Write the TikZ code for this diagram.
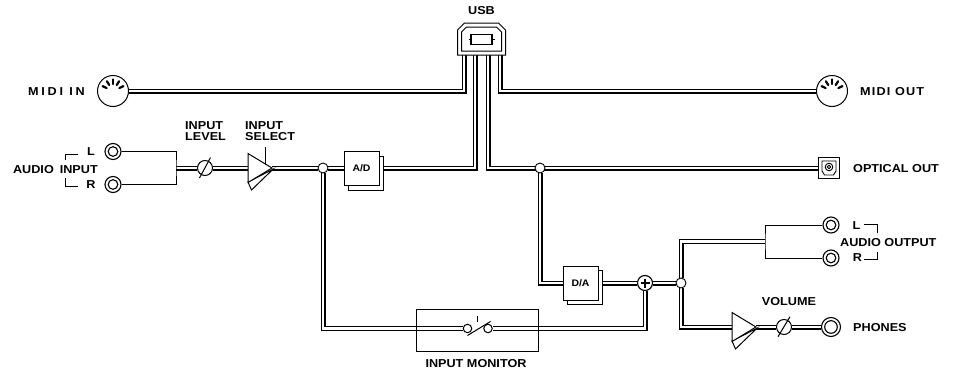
\documentclass[tikz,border=0pt]{standalone}
\usepackage{fontspec}
\newfontfamily\lab{Liberation Sans}[FakeStretch=1.1]
\usetikzlibrary{calc}
\pgfdeclarelayer{wireb}
\pgfdeclarelayer{wirew}
\pgfsetlayers{wireb,wirew,main}
\newcommand\wire[1]{%
  \begin{pgfonlayer}{wireb}\draw[line width=5pt] #1;\end{pgfonlayer}%
  \begin{pgfonlayer}{wirew}\draw[white,line width=2.6pt] #1;\end{pgfonlayer}}
\tikzset{
  lbl/.style={inner sep=0},
  midi/.style={circle, draw, line width=1pt, fill=white, minimum size=31, inner sep=0},
  jack/.style={circle, draw, line width=1.1pt, fill=white, minimum size=16, inner sep=0,
    path picture={\draw[line width=1.1pt] (path picture bounding box.center) circle[radius=4.8];}},
  phonejack/.style={circle, draw, line width=1.1pt, fill=white, minimum size=19, inner sep=0,
    path picture={\draw[line width=1.1pt] (path picture bounding box.center) circle[radius=6.3];}},
  knob/.style={circle, draw, line width=1pt, fill=white, minimum size=15, inner sep=0},
  junc/.style={circle, draw, line width=0.9pt, fill=white, minimum size=10, inner sep=0},
  contact/.style={circle, draw, line width=1pt, fill=white, minimum size=8.5, inner sep=0},
  conv/.style={draw, line width=0.9pt, fill=white, minimum width=35, minimum height=34, inner sep=0,
    font=\lab\bfseries\fontsize{9.5}{9.5}\selectfont},
  plusn/.style={circle, draw, line width=1.1pt, fill=white, minimum size=15, inner sep=0,
    path picture={\draw[line width=1.8pt] ([xshift=-4.5]path picture bounding box.center) -- ([xshift=4.5]path picture bounding box.center);
                  \draw[line width=1.8pt] ([yshift=-4.5]path picture bounding box.center) -- ([yshift=4.5]path picture bounding box.center);}},
  thinline/.style={line width=0.9pt},
  amp/.pic={
    \draw[line width=1pt, fill=white] (0,14) -- (3.5,22) -- (25,1.2) -- cycle;
    \draw[line width=1pt, fill=white, line join=miter] (0,-14.5) -- (24,0) -- (0,14.5) -- cycle;
    \coordinate (-in) at (0,0);
    \coordinate (-out) at (24,0);
  }
}
\begin{document}
\begin{tikzpicture}[x=1pt,y=-1pt, font=\lab\bfseries\fontsize{11.5}{11}\selectfont]
\useasboundingbox (0,0) rectangle (954,375);

% ---------- USB ----------
\node[lbl] (tusb) at (481.5,11) {USB};
\node[minimum width=48, minimum height=32, inner sep=0] (usb) at (481.5,39) {};
\begin{scope}[shift={(usb.center)}]
  \draw[line width=1pt, fill=white] (-24,16) -- (-24,-9) -- (-17,-16) -- (17,-16) -- (24,-9) -- (24,16) -- cycle;
  \draw[line width=1pt] (-20,12) -- (-20,-7) -- (-15,-12) -- (15,-12) -- (20,-7) -- (20,12) -- cycle;
  \draw[line width=1.6pt] (-10.5,-4.5) rectangle (10.5,5.5);
  \draw[line width=1pt] (-13,0.5) -- (-10.5,0.5) (10.5,0.5) -- (13,0.5);
\end{scope}

% ---------- MIDI ----------
\node[midi] (midiin) at (113,91) {};
\node[midi] (midiout) at (832,91) {};
\foreach \m in {midiin,midiout}{
  \foreach \a in {-155,-122,-90,-58,-25}
    \draw[line width=2.2pt, line cap=round] ([shift={(\a:7)}]\m.center) -- ([shift={(\a:11.5)}]\m.center);
}
\node[lbl, anchor=east] (tmidiin) at (85,91.5) {\addfontfeature{LetterSpace=24}MIDI IN};
\node[lbl, anchor=west] (tmidiout) at (860,91.5) {\addfontfeature{LetterSpace=10}MIDI OUT};

% ---------- audio input ----------
\node[jack] (jl) at (113,151.5) {};
\node[jack] (jr) at (113,184.5) {};
\node[lbl] (tl) at (91,151.5) {L};
\node[lbl] (tr) at (91,185) {R};
\node[lbl, anchor=east] (tain) at (98,169.5) {AUDIO\hspace{6pt}INPUT};
\draw[thinline] (78,154) -- (65,154) -- (65,160);
\draw[thinline] (65,178) -- (65,186) -- (78,186);
\coordinate (c1) at (176,168);
\draw[thinline] (jl) -| (c1) |- (jr);

\node[knob] (k1) at (205,168) {};
\draw[line width=1pt] ([shift={(-5.5,10)}]k1.center) -- ([shift={(5.5,-10.5)}]k1.center);
\node[lbl, align=left, anchor=west] (tlevel) at (185,131) {INPUT\\LEVEL};

\pic (a1) at (248,168) {amp};
\draw[line width=1pt] ([shift={(17,-21)}]a1-in) -- ([shift={(17,-4.1)}]a1-in);
\node[lbl, align=left, anchor=west] (tselect) at (245,131) {INPUT\\SELECT};

\node[junc] (j1) at (323,168) {};
\node[conv] (ads) at (365.5,173) {};
\node[conv] (ad) at (361.5,168) {A/D};

% ---------- optical ----------
\node[junc] (j2) at (540,168) {};
\node[draw, line width=1pt, fill=white, minimum size=21, inner sep=0] (opt) at (829,168) {};
\begin{scope}[shift={(opt.center)}]
  \draw[line width=0.9pt] (-7,-7) -- (7,-7) -- (7,3) -- (4.5,7) -- (-4.5,7) -- (-7,3) -- cycle;
  \draw[line width=0.9pt] (0,-1) circle[radius=3.8];
  \draw[line width=0.9pt] (0,-1) circle[radius=1.8];
\end{scope}
\node[lbl, anchor=west] (topt) at (853,169) {OPTICAL OUT};

% ---------- D/A and mix ----------
\node[conv] (das) at (584.5,287) {};
\node[conv] (da) at (580.5,283) {D/A};
\node[plusn] (plus) at (645,283) {};
\node[junc] (j3) at (681,283) {};

% ---------- monitor ----------
\node[draw, line width=0.9pt, minimum width=122, minimum height=42, inner sep=0] (mon) at (477,330) {};
\node[lbl] (tmon) at (476,363.5) {INPUT MONITOR};
\node[contact] (sl) at (467.5,328.5) {};
\node[contact] (sr) at (488,328.5) {};
\draw[line width=1pt] ([yshift=-7]sl.center) -- ([shift={(2.5,-7)}]sr.center);
\draw[line width=1pt] ($(sl.center)!0.5!(sr.center)+(0,-7)$) -- ++(0,-5.5);

% ---------- audio output ----------
\coordinate (c2) at (765,241.5);
\node[jack] (ol) at (831,225) {};
\node[jack] (or) at (831,258) {};
\draw[thinline] (ol) -| (c2) |- (or);
\node[lbl] (tol) at (856.5,225.5) {L};
\node[lbl] (tor) at (857.5,257.5) {R};
\node[lbl, anchor=west] (taout) at (840,242.7) {AUDIO OUTPUT};
\draw[thinline] (864,224) -- (877,224) -- (877,233);
\draw[thinline] (877,252) -- (877,259) -- (864,259);

% ---------- phones ----------
\pic (a2) at (732,327) {amp};
\node[knob] (k2) at (784,327) {};
\draw[line width=1pt] ([shift={(-6,9.7)}]k2.center) -- ([shift={(6,-10.3)}]k2.center);
\node[lbl] (tvol) at (789,301.7) {VOLUME};
\node[phonejack] (ph) at (831,327) {};
\node[lbl, anchor=west] (tph) at (853,327.5) {PHONES};

% ---------- wires ----------
\wire{([xshift=-17.5]usb.south) |- (midiin)}
\wire{([xshift=-6.5]usb.south) |- (ad.east -| ads.east)}
\wire{([xshift=6.5]usb.south) |- (opt)}
\wire{([xshift=18.5]usb.south) |- (midiout)}
\wire{(c1) -- (k1)}
\wire{(k1) -- (a1-in)}
\wire{(a1-out) -- (j1)}
\wire{(j1) -- (ad)}
\wire{(j1) |- (sl)}
\wire{(sr) -| (plus)}
\wire{(j2) |- (da)}
\wire{(da.east -| das.east) -- (plus)}
\wire{(plus) -- (j3)}
\wire{(j3) |- (c2)}
\wire{(j3) |- (a2-in)}
\wire{(a2-out) -- (k2)}
\wire{(k2) -- (ph)}
\end{tikzpicture}
\end{document}
